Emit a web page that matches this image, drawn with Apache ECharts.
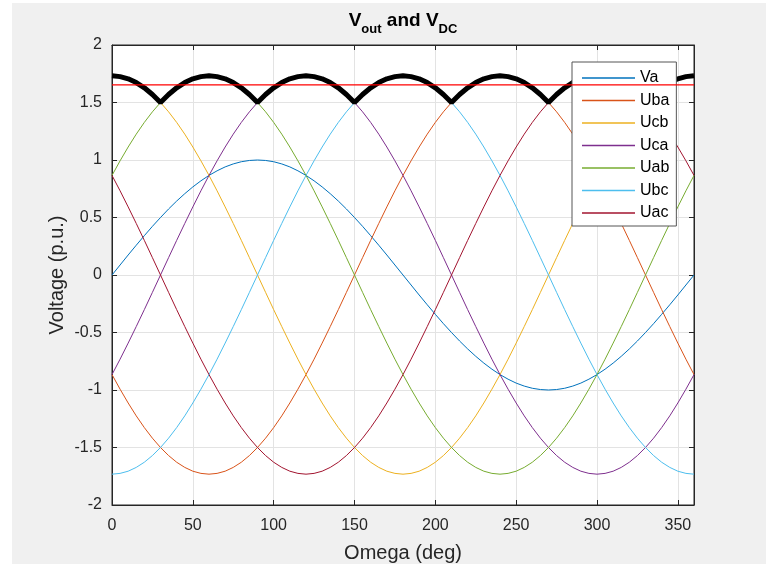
<!DOCTYPE html>
<html>
<head>
<meta charset="utf-8">
<script src="https://cdn.jsdelivr.net/npm/echarts@6/dist/echarts.min.js"></script>
<style>
  html, body { margin: 0; padding: 0; background: #fff; }
  #bg { position: absolute; left: 12px; top: 3px; width: 754px; height: 561px; background: #f0f0f0; }
  #chart { position: absolute; left: 0; top: 0; width: 768px; height: 564px; }
</style>
</head>
<body>
<div id="bg"></div>
<div id="chart"></div>
<script>
// angle in degrees
const omega = [0, 5, 10, 15, 20, 25, 30, 35, 40, 45, 50, 55, 60, 65, 70, 75, 80, 85, 90,
  95, 100, 105, 110, 115, 120, 125, 130, 135, 140, 145, 150, 155, 160, 165, 170, 175, 180,
  185, 190, 195, 200, 205, 210, 215, 220, 225, 230, 235, 240, 245, 250, 255, 260, 265, 270,
  275, 280, 285, 290, 295, 300, 305, 310, 315, 320, 325, 330, 335, 340, 345, 350, 355, 360];

const va = [0, 0.087, 0.174, 0.259, 0.342, 0.423, 0.5, 0.574, 0.643, 0.707, 0.766, 0.819, 0.866, 0.906, 0.940, 0.966, 0.985, 0.996, 1,
  0.996, 0.985, 0.966, 0.940, 0.906, 0.866, 0.819, 0.766, 0.707, 0.643, 0.574, 0.5, 0.423, 0.342, 0.259, 0.174, 0.087, 0,
  -0.087, -0.174, -0.259, -0.342, -0.423, -0.5, -0.574, -0.643, -0.707, -0.766, -0.819, -0.866, -0.906, -0.940, -0.966, -0.985, -0.996, -1,
  -0.996, -0.985, -0.966, -0.940, -0.906, -0.866, -0.819, -0.766, -0.707, -0.643, -0.574, -0.5, -0.423, -0.342, -0.259, -0.174, -0.087, 0];

const uba = [-0.866, -0.993, -1.113, -1.225, -1.327, -1.419, -1.5, -1.570, -1.628, -1.673, -1.706, -1.725,
  -1.732, -1.725, -1.706, -1.673, -1.628, -1.570, -1.5, -1.419, -1.327, -1.225, -1.113, -0.993, -0.866, -0.732, -0.592, -0.448, -0.301, -0.151, 0,
  0.151, 0.301, 0.448, 0.592, 0.732, 0.866, 0.993, 1.113, 1.225, 1.327, 1.419, 1.5, 1.570, 1.628, 1.673, 1.706, 1.725, 1.732,
  1.725, 1.706, 1.673, 1.628, 1.570, 1.5, 1.419, 1.327, 1.225, 1.113, 0.993, 0.866, 0.732, 0.592, 0.448, 0.301, 0.151, 0,
  -0.151, -0.301, -0.448, -0.592, -0.732, -0.866];

const ucb = [1.732, 1.725, 1.706, 1.673, 1.628, 1.570, 1.5, 1.419, 1.327, 1.225, 1.113, 0.993, 0.866, 0.732, 0.592, 0.448, 0.301, 0.151, 0,
  -0.151, -0.301, -0.448, -0.592, -0.732, -0.866, -0.993, -1.113, -1.225, -1.327, -1.419, -1.5, -1.570, -1.628, -1.673, -1.706, -1.725, -1.732,
  -1.725, -1.706, -1.673, -1.628, -1.570, -1.5, -1.419, -1.327, -1.225, -1.113, -0.993, -0.866, -0.732, -0.592, -0.448, -0.301, -0.151, 0,
  0.151, 0.301, 0.448, 0.592, 0.732, 0.866, 0.993, 1.113, 1.225, 1.327, 1.419, 1.5, 1.570, 1.628, 1.673, 1.706, 1.725, 1.732];

const uca = [-0.866, -0.732, -0.592, -0.448, -0.301, -0.151, 0, 0.151, 0.301, 0.448, 0.592, 0.732,
  0.866, 0.993, 1.113, 1.225, 1.327, 1.419, 1.5, 1.570, 1.628, 1.673, 1.706, 1.725,
  1.732, 1.725, 1.706, 1.673, 1.628, 1.570, 1.5, 1.419, 1.327, 1.225, 1.113, 0.993, 0.866, 0.732, 0.592, 0.448, 0.301, 0.151, 0,
  -0.151, -0.301, -0.448, -0.592, -0.732, -0.866, -0.993, -1.113, -1.225, -1.327, -1.419, -1.5, -1.570, -1.628, -1.673, -1.706, -1.725, -1.732,
  -1.725, -1.706, -1.673, -1.628, -1.570, -1.5, -1.419, -1.327, -1.225, -1.113, -0.993, -0.866];

const uab = [0.866, 0.993, 1.113, 1.225, 1.327, 1.419, 1.5, 1.570, 1.628, 1.673, 1.706, 1.725,
  1.732, 1.725, 1.706, 1.673, 1.628, 1.570, 1.5, 1.419, 1.327, 1.225, 1.113, 0.993, 0.866, 0.732, 0.592, 0.448, 0.301, 0.151, 0,
  -0.151, -0.301, -0.448, -0.592, -0.732, -0.866, -0.993, -1.113, -1.225, -1.327, -1.419, -1.5, -1.570, -1.628, -1.673, -1.706, -1.725, -1.732,
  -1.725, -1.706, -1.673, -1.628, -1.570, -1.5, -1.419, -1.327, -1.225, -1.113, -0.993, -0.866, -0.732, -0.592, -0.448, -0.301, -0.151, 0,
  0.151, 0.301, 0.448, 0.592, 0.732, 0.866];

const ubc = [-1.732, -1.725, -1.706, -1.673, -1.628, -1.570, -1.5, -1.419, -1.327, -1.225, -1.113, -0.993, -0.866, -0.732, -0.592, -0.448, -0.301, -0.151, 0,
  0.151, 0.301, 0.448, 0.592, 0.732, 0.866, 0.993, 1.113, 1.225, 1.327, 1.419, 1.5, 1.570, 1.628, 1.673, 1.706, 1.725, 1.732,
  1.725, 1.706, 1.673, 1.628, 1.570, 1.5, 1.419, 1.327, 1.225, 1.113, 0.993, 0.866, 0.732, 0.592, 0.448, 0.301, 0.151, 0,
  -0.151, -0.301, -0.448, -0.592, -0.732, -0.866, -0.993, -1.113, -1.225, -1.327, -1.419, -1.5, -1.570, -1.628, -1.673, -1.706, -1.725, -1.732];

const uac = [0.866, 0.732, 0.592, 0.448, 0.301, 0.151, 0, -0.151, -0.301, -0.448, -0.592, -0.732,
  -0.866, -0.993, -1.113, -1.225, -1.327, -1.419, -1.5, -1.570, -1.628, -1.673, -1.706, -1.725,
  -1.732, -1.725, -1.706, -1.673, -1.628, -1.570, -1.5, -1.419, -1.327, -1.225, -1.113, -0.993, -0.866, -0.732, -0.592, -0.448, -0.301, -0.151, 0,
  0.151, 0.301, 0.448, 0.592, 0.732, 0.866, 0.993, 1.113, 1.225, 1.327, 1.419, 1.5, 1.570, 1.628, 1.673, 1.706, 1.725, 1.732,
  1.725, 1.706, 1.673, 1.628, 1.570, 1.5, 1.419, 1.327, 1.225, 1.113, 0.993, 0.866];

// rectified output (upper envelope)
const vout = [1.732, 1.725, 1.706, 1.673, 1.628, 1.570, 1.5, 1.570, 1.628, 1.673, 1.706, 1.725,
  1.732, 1.725, 1.706, 1.673, 1.628, 1.570, 1.5, 1.570, 1.628, 1.673, 1.706, 1.725,
  1.732, 1.725, 1.706, 1.673, 1.628, 1.570, 1.5, 1.570, 1.628, 1.673, 1.706, 1.725,
  1.732, 1.725, 1.706, 1.673, 1.628, 1.570, 1.5, 1.570, 1.628, 1.673, 1.706, 1.725,
  1.732, 1.725, 1.706, 1.673, 1.628, 1.570, 1.5, 1.570, 1.628, 1.673, 1.706, 1.725,
  1.732, 1.725, 1.706, 1.673, 1.628, 1.570, 1.5, 1.570, 1.628, 1.673, 1.706, 1.725,
  1.732];

const dcOmega = [0, 360];
const vdc = [1.654, 1.654];

const names = ['Va', 'Uba', 'Ucb', 'Uca', 'Uab', 'Ubc', 'Uac'];
const colors = ['#0072BD', '#D95319', '#EDB120', '#7E2F8E', '#77AC30', '#4DBEEE', '#A2142F'];
const values = [va, uba, ucb, uca, uab, ubc, uac];

const axisColor = '#262626';
const font = 'Liberation Sans, Arial, Helvetica, sans-serif';

var myChart = echarts.init(document.getElementById('chart'));

const pairs = (xs, ys) => xs.map((x, i) => [x, ys[i]]);

const series = names.map((n, i) => ({
  name: n,
  type: 'line',
  symbol: 'none',
  data: pairs(omega, values[i]),
  lineStyle: { color: colors[i], width: 1 },
  itemStyle: { color: colors[i] },
  z: 2
}));
series.push({
  name: 'Vout',
  type: 'line',
  symbol: 'none',
  data: pairs(omega, vout),
  lineStyle: { color: '#000', width: 5 },
  itemStyle: { color: '#000' },
  z: 3
});
series.push({
  name: 'VDC',
  type: 'line',
  symbol: 'none',
  data: pairs(dcOmega, vdc),
  lineStyle: { color: '#ff0000', width: 1.2 },
  itemStyle: { color: '#ff0000' },
  z: 4
});

const option = {
  animation: false,
  backgroundColor: 'transparent',
  textStyle: { fontFamily: font },
  title: {
    text: '{b|V}{s|out}{b| and V}{s|DC}',
    left: 403,
    textAlign: 'center',
    top: 11,
    padding: 0,
    textStyle: {
      rich: {
        b: { fontSize: 19, fontWeight: 'bold', color: '#000', fontFamily: font, lineHeight: 22, verticalAlign: 'top' },
        s: { fontSize: 13, fontWeight: 'bold', color: '#000', fontFamily: font, lineHeight: 14, padding: [12, 0, 0, 0], verticalAlign: 'top' }
      }
    }
  },
  grid: {
    left: 112, right: 74, top: 45, bottom: 59,
    outerBoundsMode: 'none',
    containLabel: false,
    show: true,
    backgroundColor: '#fff',
    borderColor: axisColor,
    borderWidth: 1
  },
  legend: {
    data: names,
    orient: 'vertical',
    left: 572,
    top: 62,
    icon: 'rect',
    itemWidth: 53,
    itemHeight: 1.5,
    itemGap: 6.5,
    padding: [8, 7, 5, 10],
    backgroundColor: '#fff',
    borderColor: '#555',
    borderWidth: 1,
    borderRadius: 0,
    textStyle: { fontSize: 16, color: '#000', fontFamily: font, lineHeight: 16 }
  },
  xAxis: [{
    type: 'value',
    min: 0, max: 360, interval: 50,
    name: 'Omega (deg)',
    nameLocation: 'middle',
    nameGap: 38,
    nameMoveOverlap: false,
    nameTextStyle: { fontSize: 20, color: axisColor, fontFamily: font },
    axisLine: { onZero: false, lineStyle: { color: axisColor } },
    axisTick: { inside: true, length: 5, lineStyle: { color: axisColor } },
    axisLabel: {
      fontSize: 16, color: axisColor, margin: 13, fontFamily: font,
      formatter: function (v) { return v % 50 === 0 ? String(v) : ''; }
    },
    splitLine: { show: true, lineStyle: { color: '#e3e3e3' } }
  }, {
    type: 'value',
    position: 'top',
    min: 0, max: 360, interval: 50,
    axisLine: { onZero: false, lineStyle: { color: axisColor } },
    axisTick: { inside: true, length: 5, lineStyle: { color: axisColor } },
    axisLabel: { show: false },
    splitLine: { show: false }
  }],
  yAxis: [{
    type: 'value',
    min: -2, max: 2, interval: 0.5,
    name: 'Voltage (p.u.)',
    nameLocation: 'middle',
    nameGap: 45,
    nameMoveOverlap: false,
    nameTextStyle: { fontSize: 20, color: axisColor, fontFamily: font },
    axisLine: { show: true, onZero: false, lineStyle: { color: axisColor } },
    axisTick: { show: true, inside: true, length: 5, lineStyle: { color: axisColor } },
    axisLabel: { fontSize: 16, color: axisColor, margin: 10, fontFamily: font },
    splitLine: { show: true, lineStyle: { color: '#e3e3e3' } }
  }, {
    type: 'value',
    position: 'right',
    min: -2, max: 2, interval: 0.5,
    axisLine: { show: true, onZero: false, lineStyle: { color: axisColor } },
    axisTick: { show: true, inside: true, length: 5, lineStyle: { color: axisColor } },
    axisLabel: { show: false },
    splitLine: { show: false }
  }],
  series: series
};

myChart.setOption(option);
</script>
</body>
</html>
